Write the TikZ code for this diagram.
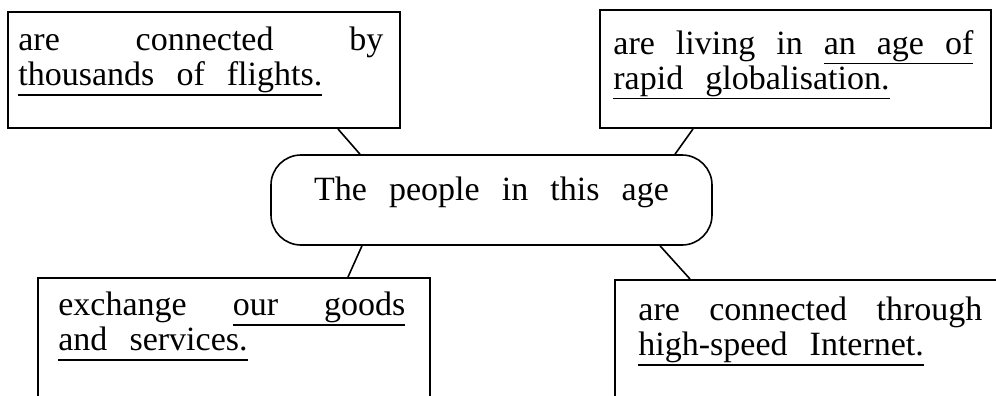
\documentclass[tikz,border=0pt]{standalone}
\usepackage{fontspec}
\setmainfont[WordSpace=2.6]{Liberation Serif}
\usetikzlibrary{calc}
\newcommand{\ulw}[1]{\setbox0=\hbox{#1}\rlap{\vrule height -4.15pt depth 4.9pt width \wd0}\box0}
\newcommand{\usp}{\leaders\hrule height -4.15pt depth 4.9pt\hskip\fontdimen2\font plus \fontdimen3\font minus \fontdimen4\font\relax}
\tikzset{
  card/.style={draw, line width=1pt, inner sep=0pt},
  hubbox/.style={
    draw, line width=0.8pt, rounded corners=15pt,
    minimum width=220.5pt, minimum height=45pt, inner sep=0pt,
    text height=12pt, text depth=12pt,
    font=\fontsize{17}{17.5}\selectfont
  },
  txt/.style={
    anchor=north west, inner sep=0pt, align=justify,
    font=\fontsize{17}{17.5}\selectfont
  },
  link/.style={line width=0.8pt}
}

\begin{document}
\begin{tikzpicture}[x=0.5pt, y=-0.5pt]
  \useasboundingbox (0,0) rectangle (996,396);
  \node[hubbox] (hub) at (491.5,200) {The people in this age};
  \node[card, minimum width=196pt, minimum height=58pt] (tl) at (204,70) {};
  \node[card, minimum width=195.5pt, minimum height=59pt] (tr) at (795.5,69) {};
  \node[card, minimum width=196pt, minimum height=71pt] (bl) at (234,349) {};
  \node[card, minimum width=200pt, minimum height=70pt] (br) at (815,350) {};
  \node[txt, text width=182.5pt] (tlt) at (18,27) {are connected by\linebreak \ulw{thousands}\usp\ulw{of}\usp\ulw{flights.}};
  \node[txt, text width=180pt] (trt) at (613,30) {are living in \ulw{an}\usp\ulw{age}\usp\ulw{of}\linebreak \ulw{rapid}\usp\ulw{globalisation.}};
  \node[txt, text width=173.5pt] (blt) at (58,292) {exchange \ulw{our}\usp\ulw{goods}\linebreak \ulw{and}\usp\ulw{services.}};
  \node[txt, text width=172pt] (brt) at (638,297) {are connected through\linebreak \ulw{high-speed}\usp\ulw{Internet.}};
  \draw[link] ($(tl.south)+(134,0)$) -- ($(hub.north)+(-131.5,0)$);
  \draw[link] ($(tr.south)+(-102.5,0)$) -- ($(hub.north)+(183.5,0)$);
  \draw[link] ($(hub.south)+(-129.5,0)$) -- ($(bl.north)+(114,0)$);
  \draw[link] ($(hub.south)+(168.5,0)$) -- ($(br.north)+(-125,0)$);
\end{tikzpicture}
\end{document}
